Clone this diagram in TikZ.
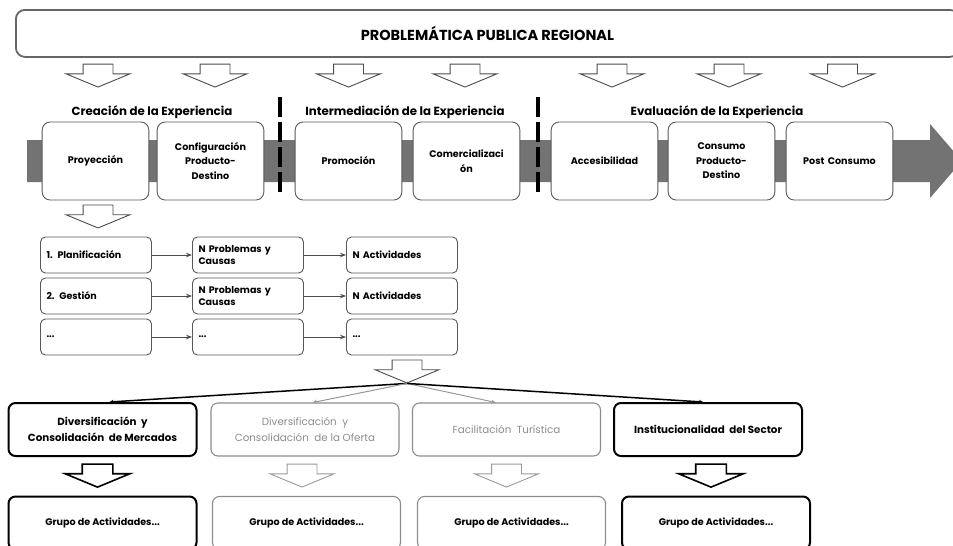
\documentclass[tikz,border=0pt]{standalone}
\usepackage{fontspec}
\setmainfont{Poppins}
\usetikzlibrary{arrows.meta,shapes,positioning}

\begin{document}
\begin{tikzpicture}[x=1pt, y=-1pt, node distance=117pt]
  \tikzstyle{etapa} = [rectangle, draw=black!65, line width=0.9pt, fill=white, rounded corners=8pt, minimum width=106pt, minimum height=78pt, text width=100pt, align=center, font=\bfseries\fontsize{9.6}{14.5}\selectfont]
  \tikzstyle{tarea} = [rectangle, draw=black!65, line width=0.9pt, fill=white, rounded corners=5pt, minimum width=111pt, minimum height=36pt, text width=99pt, align=left, font=\bfseries\fontsize{9.5}{12}\selectfont]
  \tikzstyle{eje} = [rectangle, draw, line width=2pt, rounded corners=7pt, minimum width=188pt, minimum height=53pt, align=center, font=\bfseries\fontsize{10.3}{16}\selectfont]
  \tikzstyle{ejegris} = [eje, draw=black!45, line width=1.1pt]
  \tikzstyle{flecha} = [single arrow, shape border rotate=270, draw=black!70, line width=0.9pt, fill=white, minimum height=23pt, single arrow head extend=17pt, single arrow tip angle=135, inner xsep=14.5pt, inner ysep=0pt]
  \tikzstyle{flechanegra} = [flecha, draw=black, line width=1.6pt]
  \tikzstyle{flechagris} = [flecha, draw=black!40]
  \tikzstyle{enlace} = [black!70, line width=0.9pt, -{Stealth[length=6pt,width=4.5pt]}]
  \tikzstyle{rama} = [line width=1.5pt, -{Stealth[length=4pt,width=4pt]}]
  \tikzstyle{ramagris} = [rama, black!40, line width=1pt]
  \tikzstyle{corte} = [line width=4.5pt, dash pattern=on 20pt off 5pt]
  \tikzstyle{fase} = [font=\bfseries\fontsize{11.8}{13}\selectfont]

  \useasboundingbox (0,0) rectangle (953,546);

  % problema general
  \node [draw=black!60, line width=1.8pt, rounded corners=9pt, minimum width=943pt, minimum height=47pt, anchor=north west, font=\bfseries\fontsize{14.5}{16}\selectfont] (problema) at (15,9) {PROBLEMÁTICA PUBLICA REGIONAL};

  % cadena de valor
  \fill [black!55] (27,140) -- (930,140) -- (930,124) -- (962,161) -- (930,198) -- (930,182) -- (27,182) -- cycle;
  \node [etapa] (proy) at (95.5,161) {Proyección};
  \node [etapa, right of=proy, node distance=115pt] (conf) {Configuración\\Producto-\\Destino};
  \node [etapa, right of=conf, node distance=138pt] (promo) {Promoción};
  \node [etapa, right of=promo, node distance=118pt] (comer) {Comercializaci\\ón};
  \node [etapa, right of=comer, node distance=138pt] (acces) {Accesibilidad};
  \node [etapa, right of=acces, node distance=117pt] (consumo) {Consumo\\Producto-\\Destino};
  \node [etapa, right of=consumo, node distance=118pt] (post) {Post Consumo};

  \foreach \n/\dx in {proy/2.5, conf/4.5, promo/0, comer/-1.5, acces/7.5, consumo/7.5, post/3}
    \node [flecha, above=34pt of \n.north, anchor=tip, xshift=\dx pt] (f-\n) {};

  \node [fase] (creacion) at (152,112) {Creación de la Experiencia};
  \node [fase] (interm) at (405,112) {Intermediación de la Experiencia};
  \node [fase] (evalua) at (717,112) {Evaluación de la Experiencia};
  \draw [corte] (280,97) -- (280,193);
  \draw [corte] (538,97) -- (538,193);

  % desglose de proyeccion
  \node [flecha, below=28pt of proy.south, anchor=tip, xshift=2.5pt] (f-proy-abajo) {};
  \node [tarea] (plan) at (96,255) {1. Planificación};
  \node [tarea, right of=plan, node distance=152pt] (prob1) {N Problemas y\\Causas};
  \node [tarea, right of=prob1, node distance=154pt] (act1) {N Actividades};
  \node [tarea, below of=plan, node distance=41pt] (gest) {2. Gestión};
  \node [tarea, right of=gest, node distance=152pt] (prob2) {N Problemas y\\Causas};
  \node [tarea, right of=prob2, node distance=154pt] (act2) {N Actividades};
  \node [tarea, below of=gest, node distance=41pt] (otro) {...};
  \node [tarea, right of=otro, node distance=152pt] (prob3) {...};
  \node [tarea, right of=prob3, node distance=154pt] (act3) {...};

  \foreach \a/\b/\c in {plan/prob1/act1, gest/prob2/act2, otro/prob3/act3} {
    \draw [enlace] (\a) -- (\b);
    \draw [enlace] (\b) -- (\c);
  }

  % ejes estrategicos
  \node [flecha, below=28pt of act3.south, anchor=tip, xshift=5pt] (f-ejes) {};
  \node [eje] (mercados) at (102.5,429.5) {Diversificación \ y\\Consolidación \ de Mercados};
  \node [ejegris, text=black!45, font=\fontsize{10.3}{16}\selectfont] (oferta) at (305,429.5) {Diversificación \ y\\Consolidación \ de la Oferta};
  \node [ejegris, text=black!45, font=\fontsize{10.3}{16}\selectfont] (facil) at (506.5,429.5) {Facilitación \ Turística};
  \node [eje] (instit) at (708,429.5) {Institucionalidad \ del Sector};

  \draw [rama] (f-ejes.tip) -- ([xshift=7pt]mercados.north);
  \draw [ramagris] (f-ejes.tip) -- ([xshift=8pt]oferta.north);
  \draw [ramagris] (f-ejes.tip) -- ([xshift=-11pt]facil.north);
  \draw [rama] (f-ejes.tip) -- ([xshift=-5pt]instit.north);

  % grupos de actividades
  \node [eje, font=\bfseries\fontsize{9.6}{12}\selectfont] (grupo1) at (102.5,523) {Grupo de Actividades...};
  \node [ejegris, font=\bfseries\fontsize{9.6}{12}\selectfont] (grupo2) at (306.5,523) {Grupo de Actividades...};
  \node [ejegris, font=\bfseries\fontsize{9.6}{12}\selectfont] (grupo3) at (511.5,523) {Grupo de Actividades...};
  \node [eje, font=\bfseries\fontsize{9.6}{12}\selectfont] (grupo4) at (716,523) {Grupo de Actividades...};

  \node [flechanegra, below=31pt of mercados.south, anchor=tip, xshift=-5pt] (f-g1) {};
  \node [flechagris, below=31pt of oferta.south, anchor=tip, xshift=-3pt] (f-g2) {};
  \node [flechagris, below=31pt of facil.south, anchor=tip] (f-g3) {};
  \node [flechanegra, below=31pt of instit.south, anchor=tip, xshift=3pt] (f-g4) {};
\end{tikzpicture}
\end{document}
